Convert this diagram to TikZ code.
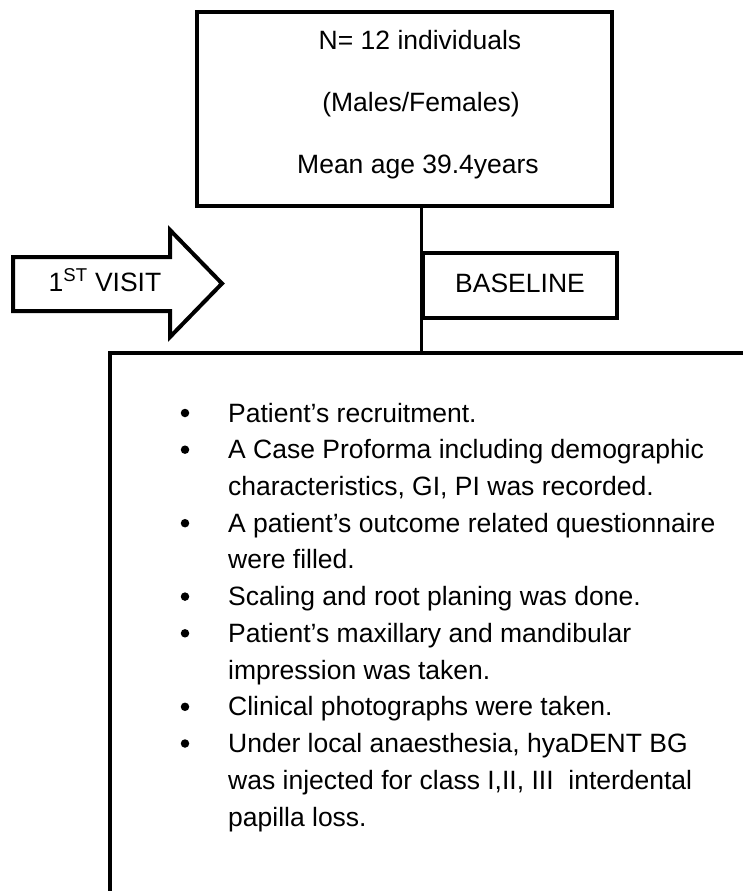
\documentclass[tikz,border=0pt]{standalone}
\usepackage{fontspec}
\setmainfont{Liberation Sans}
\begin{document}
\begin{tikzpicture}[x=1pt,y=-1pt,
  boxline/.style={draw=black, line width=4pt},
  txt/.style={inner sep=0pt, anchor=base, font=\fontsize{26.5}{30}\selectfont},
  ltxt/.style={inner sep=0pt, anchor=base west, font=\fontsize{26.5}{30}\selectfont},
  bul/.style={circle, fill=black, inner sep=0pt, minimum size=8.5pt},
  ]
\useasboundingbox[fill=white] (0,0) rectangle (742,891);
% top box
\node[boxline, minimum width=415pt, minimum height=194pt, inner sep=0pt] (top) at (404.5,109) {};
\node[txt] (t1) at (420,49) {N= 12 individuals};
\node[txt] (t2) at (421,111) {(Males/Females)};
\node[txt] (t3) at (418,173) {Mean age 39.4years};
% baseline box
\node[boxline, minimum width=194pt, minimum height=65pt, inner sep=0pt] (base) at (520,285.5) {};
\node[txt] (bl) at (520,292) {BASELINE};
% arrow
\draw[line width=4pt, line join=miter] (13,257) -- (170,257) -- (170,230) -- (222,283.5) -- (170,337) -- (170,311) -- (13,311) -- cycle;
\node[txt] (visit) at (105,291) {1\textsuperscript{ST} VISIT};
% bottom panel
\coordinate (pnl) at (110,353);
\draw[line width=4.5pt] (110,895) -- (pnl) -- (746,353);
% connector
\draw[line width=3pt] (base.west |- top.south) -- (base.west |- pnl);
% list
\foreach \n/\y in {1/422,2/458.7,4/532.2,6/605.6,7/642.3,9/715.8,10/752.5}
  \node[bul] (b\n) at (185,\y-9) {};
\node[ltxt] (l1) at (228,422) {Patient’s recruitment.};
\node[ltxt] (l2) at (228,458.7) {A Case Proforma including demographic};
\node[ltxt] (l3) at (228,495.5) {characteristics, GI, PI was recorded.};
\node[ltxt] (l4) at (228,532.2) {A patient’s outcome related questionnaire};
\node[ltxt] (l5) at (228,568.9) {were filled.};
\node[ltxt] (l6) at (228,605.6) {Scaling and root planing was done.};
\node[ltxt] (l7) at (228,642.3) {Patient’s maxillary and mandibular};
\node[ltxt] (l8) at (228,679.1) {impression was taken.};
\node[ltxt] (l9) at (228,715.8) {Clinical photographs were taken.};
\node[ltxt] (l10) at (228,752.5) {Under local anaesthesia, hyaDENT BG};
\node[ltxt] (l11) at (228,789.2) {was injected for class I,II, III\ \ interdental};
\node[ltxt] (l12) at (228,826) {papilla loss.};
\end{tikzpicture}
\end{document}
